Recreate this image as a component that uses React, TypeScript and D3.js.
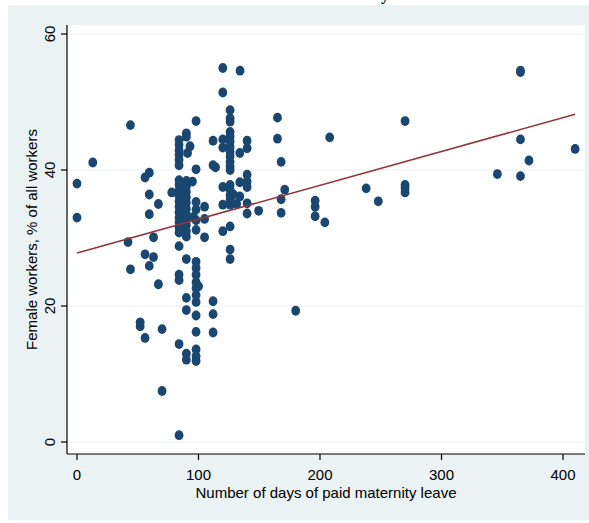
import React, { useEffect, useRef } from 'react';
import * as d3 from 'd3';

// days of paid maternity leave per country
const days = [
  0, 0, 13, 42, 44, 44, 52, 52, 56, 56, 56, 59.5, 59.5, 59.5, 59.5, 63, 63, 67, 67, 70, 70, 78,
  84, 84, 84, 84, 84, 84, 84, 84, 84, 84, 84, 84, 84, 84, 84, 84, 84, 84, 84, 84, 84, 84,
  90, 90, 91, 93, 90, 90, 90, 90, 90, 90, 90, 90, 90, 90, 90, 90, 90, 90, 90, 90,
  98, 98, 95, 98, 98, 98, 98, 96, 98, 98, 98, 98, 98, 98, 98, 98, 98, 98, 98, 98, 100,
  105, 105, 105, 112, 112, 114, 112, 112, 112,
  120, 120, 120, 120, 120, 120, 120,
  126, 126, 126, 126, 126, 126, 126, 126, 126, 126, 126, 126, 126, 126, 126, 126, 126, 126, 126, 126,
  128.7, 131.4, 134, 134, 134, 134.2,
  140, 140, 140, 140, 140, 140, 140, 149.5,
  165, 165, 168, 168, 168, 171, 180,
  196, 196, 196, 204, 208, 238, 248, 270, 270, 270, 270,
  346, 365, 365, 365, 365, 372, 410,
];

// female workers, % of all workers
const femaleShare = [
  38.0, 33.0, 41.1, 29.4, 46.6, 25.4, 17.6, 17.0, 38.9, 27.6, 15.3, 39.6, 36.4, 33.5, 25.9, 30.1, 27.2, 35.0, 23.2, 16.6, 7.5, 36.7,
  44.4, 43.7, 42.9, 42.2, 41.5, 40.7, 38.5, 37.8, 37.0, 36.2, 35.4, 34.6, 33.8, 33.0, 32.3, 31.5, 30.8, 28.8, 24.6, 23.8, 14.4, 1.0,
  45.4, 44.9, 42.5, 43.5, 38.4, 37.6, 36.8, 36.0, 35.2, 34.3, 33.5, 32.7, 31.9, 31.0, 30.2, 26.9, 21.2, 19.4, 13.0, 12.1,
  47.2, 40.1, 38.3, 35.3, 34.2, 32.6, 31.2, 33.1, 26.5, 25.6, 24.6, 23.5, 22.6, 21.6, 20.6, 18.6, 16.2, 13.6, 12.6, 11.9, 22.9,
  34.6, 32.8, 30.1, 44.3, 40.7, 40.4, 20.7, 18.8, 16.1,
  55.0, 51.4, 44.5, 43.3, 37.5, 34.9, 31.0,
  48.8, 47.6, 47.1, 45.6, 44.9, 44.2, 43.4, 42.7, 42.0, 41.2, 40.5, 40.0, 37.8, 37.1, 36.3, 35.6, 34.9, 31.7, 28.3, 26.9,
  36.4, 35.0, 36.1, 42.5, 38.2, 54.6,
  44.3, 43.2, 39.3, 38.3, 37.5, 35.1, 33.6, 34.0,
  47.7, 44.6, 41.2, 35.7, 33.7, 37.1, 19.3,
  35.5, 34.6, 33.2, 32.3, 44.8, 37.3, 35.4, 47.2, 37.8, 37.3, 36.7,
  39.4, 54.4, 54.6, 44.5, 39.1, 41.4, 43.1,
];

// linear fit endpoints
const fitDays = [0, 410];
const fitShare = [27.8, 48.2];

const xTicks = [0, 100, 200, 300, 400];
const yTicks = [0, 20, 40, 60];

const W = 589;
const H = 523;
const plot = { left: 67, right: 585, top: 25, bottom: 454 };

export default function App() {
  const ref = useRef<SVGSVGElement>(null);

  useEffect(() => {
    const svg = d3.select(ref.current);
    svg.selectAll('*').remove();

    const x = d3.scaleLinear().domain([0, 400]).range([77, 563]);
    const y = d3.scaleLinear().domain([0, 60]).range([442, 34]);
    const font = '"Liberation Sans", Arial, sans-serif';
    const n = Math.min(days.length, femaleShare.length);
    const points = d3.range(n).map(i => [days[i], femaleShare[i]]);

    svg.append('rect').attr('width', W).attr('height', H).attr('fill', '#fff');
    svg.append('rect').attr('x', 8).attr('y', 5).attr('width', W - 8).attr('height', 515).attr('fill', '#eaf2f3');

    // title, cut off by the top edge
    svg.append('text').attr('x', 385).attr('y', 0).attr('text-anchor', 'middle')
      .style('font', 'bold 16px "Liberation Serif", serif').text('y');

    svg.append('rect')
      .attr('x', plot.left).attr('y', plot.top)
      .attr('width', plot.right - plot.left).attr('height', plot.bottom - plot.top)
      .attr('fill', '#fff');

    // grid
    svg.append('g').selectAll('line').data(yTicks).join('line')
      .attr('x1', plot.left).attr('x2', plot.right)
      .attr('y1', d => y(d)).attr('y2', d => y(d))
      .attr('stroke', '#eaf2f3').attr('stroke-width', 1.2);

    // y axis
    const ya = svg.append('g');
    ya.append('line').attr('x1', plot.left).attr('x2', plot.left).attr('y1', plot.top).attr('y2', plot.bottom)
      .attr('stroke', '#000').attr('stroke-width', 1.2);
    ya.selectAll('.tick').data(yTicks).join('line')
      .attr('x1', plot.left - 6).attr('x2', plot.left)
      .attr('y1', d => y(d)).attr('y2', d => y(d))
      .attr('stroke', '#000').attr('stroke-width', 1.2);
    ya.selectAll('text').data(yTicks).join('text')
      .attr('transform', d => `translate(55,${y(d)}) rotate(-90)`)
      .attr('text-anchor', 'middle')
      .style('font', `15px ${font}`).attr('fill', '#000')
      .text(d => d);
    svg.append('text')
      .attr('transform', `translate(37,${(plot.top + plot.bottom) / 2}) rotate(-90)`)
      .attr('text-anchor', 'middle')
      .style('font', `15px ${font}`)
      .text('Female workers, % of all workers');

    // x axis
    const xa = svg.append('g');
    xa.append('line').attr('x1', plot.left).attr('x2', plot.right).attr('y1', plot.bottom).attr('y2', plot.bottom)
      .attr('stroke', '#000').attr('stroke-width', 1.2);
    xa.selectAll('.tick').data(xTicks).join('line')
      .attr('x1', d => x(d)).attr('x2', d => x(d))
      .attr('y1', plot.bottom).attr('y2', plot.bottom + 6)
      .attr('stroke', '#000').attr('stroke-width', 1.2);
    xa.selectAll('text').data(xTicks).join('text')
      .attr('x', d => x(d)).attr('y', 480)
      .attr('text-anchor', 'middle')
      .style('font', `15px ${font}`)
      .text(d => d);
    svg.append('text')
      .attr('x', (plot.left + plot.right) / 2).attr('y', 498)
      .attr('text-anchor', 'middle')
      .style('font', `15px ${font}`)
      .text('Number of days of paid maternity leave');

    // points
    svg.append('g').selectAll('ellipse').data(points).join('ellipse')
      .attr('cx', d => x(d[0])).attr('cy', d => y(d[1]))
      .attr('rx', 4.4).attr('ry', 4.9)
      .attr('fill', '#1a476f');

    // fitted line
    const line = d3.line<number>().x(d => x(d)).y((_, i) => y(fitShare[i]));
    svg.append('path').datum(fitDays).attr('d', line)
      .attr('fill', 'none').attr('stroke', '#90353b').attr('stroke-width', 1.5);
  }, []);

  return (
    <svg ref={ref} width={W} height={H}
      style={{ position: 'absolute', left: 0, top: 0, display: 'block' }} />
  );
}
